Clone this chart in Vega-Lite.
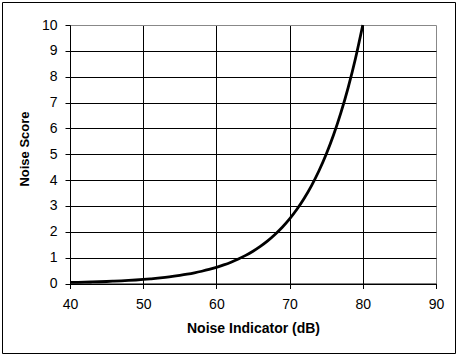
{
  "$schema": "https://vega.github.io/schema/vega-lite/v6.json",
  "width": 453,
  "height": 351,
  "autosize": {"type": "none"},
  "padding": {"left": 2, "top": 2, "right": 5, "bottom": 5},
  "background": "white",
  "config": {
    "view": {"stroke": "black", "strokeWidth": 1},
    "font": "Liberation Sans"
  },
  "data": {
    "values": [
      {"dB": 40, "score": 0.04}, {"dB": 41, "score": 0.045}, {"dB": 42, "score": 0.051},
      {"dB": 43, "score": 0.059}, {"dB": 44, "score": 0.068}, {"dB": 45, "score": 0.078},
      {"dB": 46, "score": 0.09}, {"dB": 47, "score": 0.103}, {"dB": 48, "score": 0.118},
      {"dB": 49, "score": 0.136}, {"dB": 50, "score": 0.156}, {"dB": 51, "score": 0.18},
      {"dB": 52, "score": 0.206}, {"dB": 53, "score": 0.237}, {"dB": 54, "score": 0.272},
      {"dB": 55, "score": 0.313}, {"dB": 56, "score": 0.359}, {"dB": 57, "score": 0.412},
      {"dB": 58, "score": 0.474}, {"dB": 59, "score": 0.544}, {"dB": 60, "score": 0.625},
      {"dB": 61, "score": 0.718}, {"dB": 62, "score": 0.825}, {"dB": 63, "score": 0.947},
      {"dB": 64, "score": 1.088}, {"dB": 65, "score": 1.25}, {"dB": 66, "score": 1.436},
      {"dB": 67, "score": 1.649}, {"dB": 68, "score": 1.895}, {"dB": 69, "score": 2.176},
      {"dB": 70, "score": 2.5}, {"dB": 71, "score": 2.872}, {"dB": 72, "score": 3.299},
      {"dB": 73, "score": 3.789}, {"dB": 74, "score": 4.353}, {"dB": 75, "score": 5.0},
      {"dB": 76, "score": 5.743}, {"dB": 77, "score": 6.598}, {"dB": 78, "score": 7.579},
      {"dB": 79, "score": 8.706}, {"dB": 80, "score": 10.0}
    ]
  },
  "layer": [
    {
      "mark": {"type": "line", "color": "black", "strokeWidth": 2.8, "interpolate": "monotone"},
      "encoding": {
        "x": {
          "field": "dB",
          "type": "quantitative",
          "scale": {"domain": [40, 90], "range": [68, 434], "nice": false, "zero": false},
          "axis": {
            "orient": "bottom",
            "title": "Noise Indicator (dB)",
            "values": [40, 50, 60, 70, 80, 90],
            "format": "d",
            "offset": -69.5,
            "domainColor": "black",
            "domainWidth": 1,
            "tickColor": "black",
            "tickSize": 5,
            "labelFont": "Liberation Sans",
            "labelFontSize": 14,
            "labelColor": "black",
            "labelPadding": 9,
            "labelFlush": false,
            "titleFont": "Liberation Sans",
            "titleFontSize": 14,
            "titleFontWeight": "bold",
            "titleColor": "black",
            "titlePadding": 10,
            "grid": false
          }
        },
        "y": {
          "field": "score",
          "type": "quantitative",
          "scale": {"domain": [0, 10], "range": [281.5, 23], "nice": false},
          "axis": {
            "title": "Noise Score",
            "values": [0, 1, 2, 3, 4, 5, 6, 7, 8, 9, 10],
            "format": "d",
            "offset": -68,
            "domainColor": "black",
            "domainWidth": 1,
            "tickColor": "black",
            "tickSize": 5,
            "labelFont": "Liberation Sans",
            "labelFontSize": 14,
            "labelColor": "black",
            "labelPadding": 8,
            "labelFlush": false,
            "titleFont": "Liberation Sans",
            "titleFontSize": 13,
            "titleFontWeight": "bold",
            "titleColor": "black",
            "titlePadding": 10,
            "titleY": 146.5,
            "grid": true,
            "gridColor": {"condition": {"test": "datum.value === 10", "value": "#888888"}, "value": "black"},
            "gridWidth": 1,
            "gridOpacity": 1
          }
        }
      }
    },
    {
      "mark": {"type": "line", "opacity": 0},
      "encoding": {
        "x": {
          "field": "dB",
          "type": "quantitative",
          "scale": {"domain": [40, 90], "range": [68, 434], "nice": false, "zero": false},
          "axis": {
            "orient": "top",
            "title": null,
            "values": [40, 50, 60, 70, 80, 90],
            "domain": false,
            "ticks": false,
            "labels": false,
            "grid": true,
            "gridColor": {"condition": {"test": "datum.value === 90", "value": "#888888"}, "value": "black"},
            "gridWidth": 1,
            "gridOpacity": 1
          }
        },
        "y": {
          "field": "score",
          "type": "quantitative",
          "scale": {"domain": [0, 10], "range": [281.5, 23], "nice": false},
          "axis": null
        }
      }
    }
  ],
  "resolve": {"axis": {"x": "independent", "y": "independent"}}
}
